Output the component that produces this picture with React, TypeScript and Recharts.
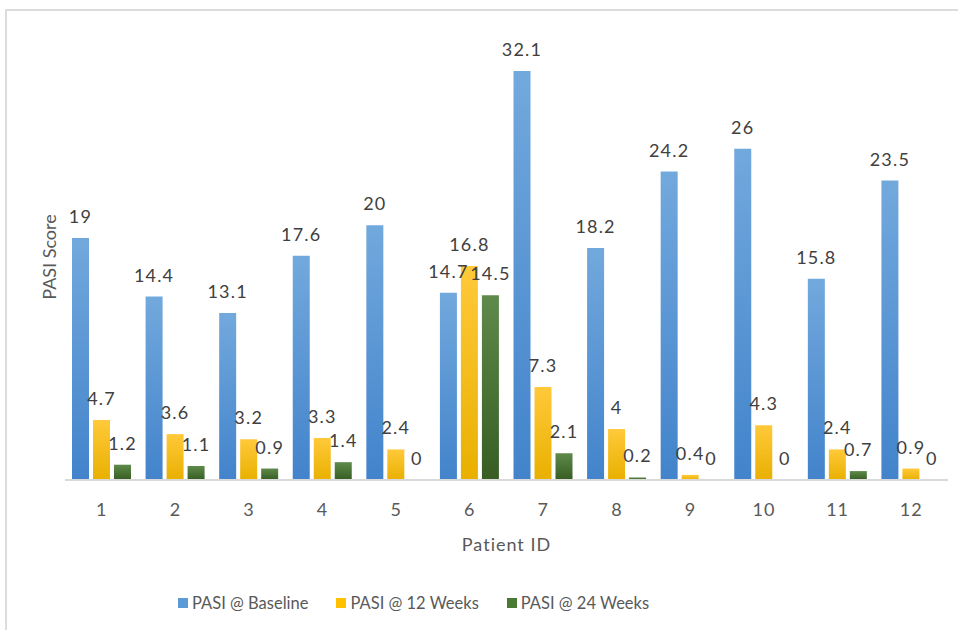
import { Bar, BarChart, LabelList, Legend, XAxis, YAxis } from "recharts";

const patients = ["1", "2", "3", "4", "5", "6", "7", "8", "9", "10", "11", "12"];
const baseline = [19, 14.4, 13.1, 17.6, 20, 14.7, 32.1, 18.2, 24.2, 26, 15.8, 23.5];
const week12 = [4.7, 3.6, 3.2, 3.3, 2.4, 16.8, 7.3, 4, 0.4, 4.3, 2.4, 0.9];
const week24 = [1.2, 1.1, 0.9, 1.4, 0, 14.5, 2.1, 0.2, 0, 0, 0.7, 0];

const SERIES = [
  { key: "baseline", name: "PASI @ Baseline", color: "#5b9bd5", top: "#72a9dd", bottom: "#4283cb" },
  { key: "week12", name: "PASI @ 12 Weeks", color: "#ffc000", top: "#ffc93a", bottom: "#e9b000" },
  { key: "week24", name: "PASI @ 24 Weeks", color: "#4b7a35", top: "#5e8a4b", bottom: "#375d22" },
];

const data = patients.map((p, i) => ({
  patient: p,
  baseline: baseline[i],
  week12: week12[i],
  week24: week24[i],
}));

const FONT = "Lato, 'Open Sans', sans-serif";

function LegendContent() {
  return (
    <div style={{ display: "flex", gap: 28, fontFamily: FONT, fontSize: 16.5, color: "#595959" }}>
      {SERIES.map((s) => (
        <div key={s.key} style={{ display: "flex", alignItems: "center" }}>
          <span
            style={{ display: "inline-block", width: 10, height: 10, background: s.color, marginRight: 4 }}
          />
          <span>{s.name}</span>
        </div>
      ))}
    </div>
  );
}

// draws the value above each bar, zeros included
function ValueLabel(props: any) {
  const { x, y, width, height, value } = props;
  if (value === undefined || value === null) return null;
  const cx = Number(x) + Number(width) / 2;
  const topY = Math.min(Number(y), Number(y) + Number(height || 0));
  return (
    <text
      x={cx}
      y={topY - 15}
      textAnchor="middle"
      fill="#404040"
      fontSize={18}
      fontFamily={FONT}
      letterSpacing={1.2}
    >
      {String(value)}
    </text>
  );
}

export default function App() {
  return (
    <div style={{ position: "absolute", left: 0, top: 0, width: 958, height: 630, background: "#fff", overflow: "hidden" }}>
      <div
        style={{
          position: "absolute",
          left: 5,
          top: 9,
          width: 1000,
          height: 700,
          borderTop: "2px solid #dcdcdc",
          borderLeft: "2px solid #dcdcdc",
        }}
      />
      <BarChart
        width={958}
        height={630}
        data={data}
        margin={{ top: 34, right: 10, left: 35, bottom: 70 }}
        barSize={17}
        barGap={4}
        style={{ position: "absolute", left: 0, top: 0 }}
      >
        <defs>
          {SERIES.map((s) => (
            <linearGradient key={s.key} id={`grad-${s.key}`} x1="0" y1="0" x2="0" y2="1">
              <stop offset="0%" stopColor={s.top} />
              <stop offset="100%" stopColor={s.bottom} />
            </linearGradient>
          ))}
        </defs>
        <XAxis
          dataKey="patient"
          height={80}
          tickLine={false}
          tickMargin={17}
          axisLine={{ stroke: "#d9d9d9", strokeWidth: 2 }}
          tick={{ fill: "#595959", fontSize: 18, fontFamily: FONT, letterSpacing: 1 }}
          label={{
            value: "Patient ID",
            position: "insideBottom",
            offset: 9,
            fill: "#595959",
            fontSize: 18,
            fontFamily: FONT,
            letterSpacing: 1,
          }}
        />
        <YAxis
          width={30}
          domain={[0, 35]}
          tick={false}
          axisLine={false}
          tickLine={false}
          label={{
            value: "PASI Score",
            angle: -90,
            position: "center",
            fill: "#595959",
            fontSize: 18,
            fontFamily: FONT,
          }}
        />
        <Legend
          verticalAlign="middle"
          align="center"
          layout="horizontal"
          wrapperStyle={{ top: 593, left: 178, width: "auto" }}
          content={<LegendContent />}
        />
        {SERIES.map((s) => (
          <Bar
            key={s.key}
            dataKey={s.key}
            name={s.name}
            fill={`url(#grad-${s.key})`}
            minPointSize={0.01}
            isAnimationActive={false}
          >
            <LabelList dataKey={s.key} content={<ValueLabel />} />
          </Bar>
        ))}
      </BarChart>
    </div>
  );
}
